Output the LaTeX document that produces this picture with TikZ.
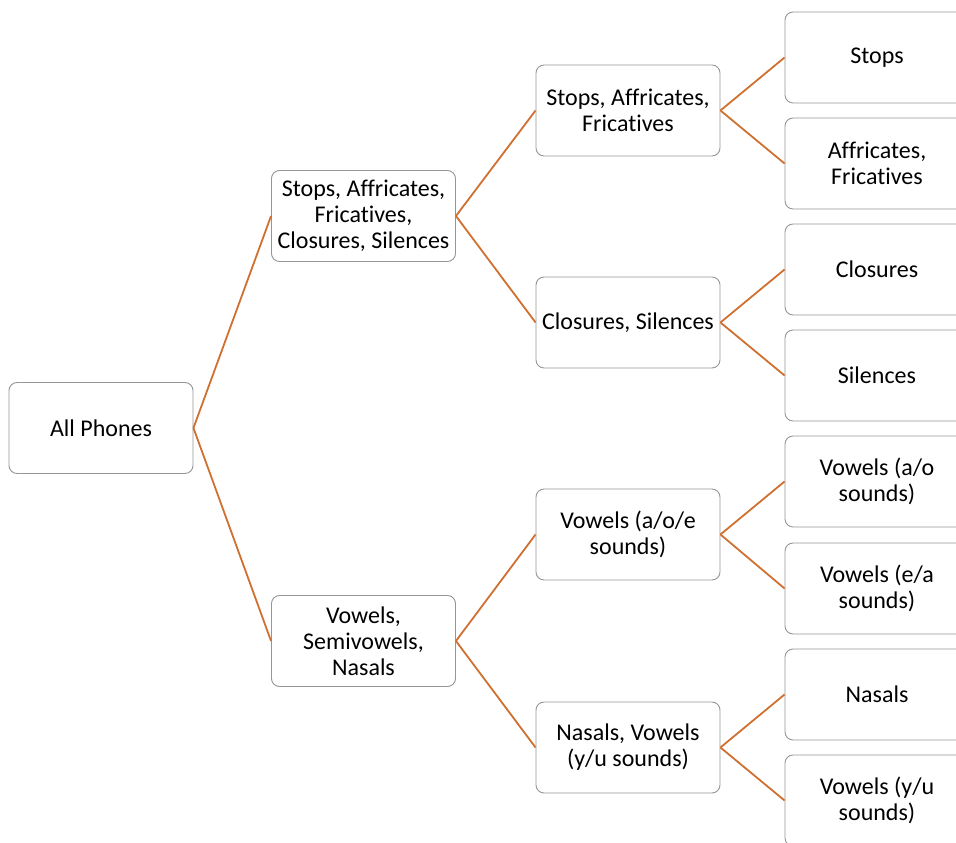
\documentclass[tikz,border=0pt]{standalone}
\usepackage{fontspec}
\setmainfont[Ligatures={NoCommon}]{Carlito}
\definecolor{linkorange}{RGB}{208,112,48}
\definecolor{boxgray}{RGB}{150,150,150}
\begin{document}
\begin{tikzpicture}[x=1pt,y=1pt,
  phone/.style={draw=boxgray, line width=0.9pt, rounded corners=8pt, fill=white,
    minimum width=184pt, minimum height=91pt, inner sep=2pt,
    align=center, font=\fontsize{24}{26}\selectfont},
  link/.style={draw=linkorange, line width=1.8pt}]
\useasboundingbox (0,0) rectangle (956,843);
\begin{scope}
\clip (0,0) rectangle (956,843);
% root
\node[phone] (all) at (101,415) {All Phones};
% first split
\node[phone] (sacs) at (363.5,627) {Stops, Affricates,\\Fricatives,\\Closures, Silences};
\node[phone] (vsn) at (363.5,202) {Vowels,\\Semivowels,\\Nasals};
% second split
\node[phone] (saf) at (628,732.5) {Stops, Affricates,\\Fricatives};
\node[phone] (cs) at (628,520.5) {Closures, Silences};
\node[phone] (vae) at (628,308.5) {Vowels (a/o/e\\sounds)};
\node[phone] (nv) at (628,95.5) {Nasals, Vowels\\(y/u sounds)};
% leaves
\node[phone] (stops) at (877,785.5) {Stops};
\node[phone] (af) at (877,679.5) {Affricates,\\Fricatives};
\node[phone] (clo) at (877,573.5) {Closures};
\node[phone] (sil) at (877,467.5) {Silences};
\node[phone] (vao) at (877,361.5) {Vowels (a/o\\sounds)};
\node[phone] (vea) at (877,254.5) {Vowels (e/a\\sounds)};
\node[phone] (nas) at (877,148.5) {Nasals};
\node[phone] (vyu) at (877,42.5) {Vowels (y/u\\sounds)};
% connectors
\foreach \p/\c in {all/sacs, all/vsn, sacs/saf, sacs/cs, vsn/vae, vsn/nv,
    saf/stops, saf/af, cs/clo, cs/sil, vae/vao, vae/vea, nv/nas, nv/vyu}
  \draw[link] (\p.east) -- (\c.west);
\end{scope}
\end{tikzpicture}
\end{document}
